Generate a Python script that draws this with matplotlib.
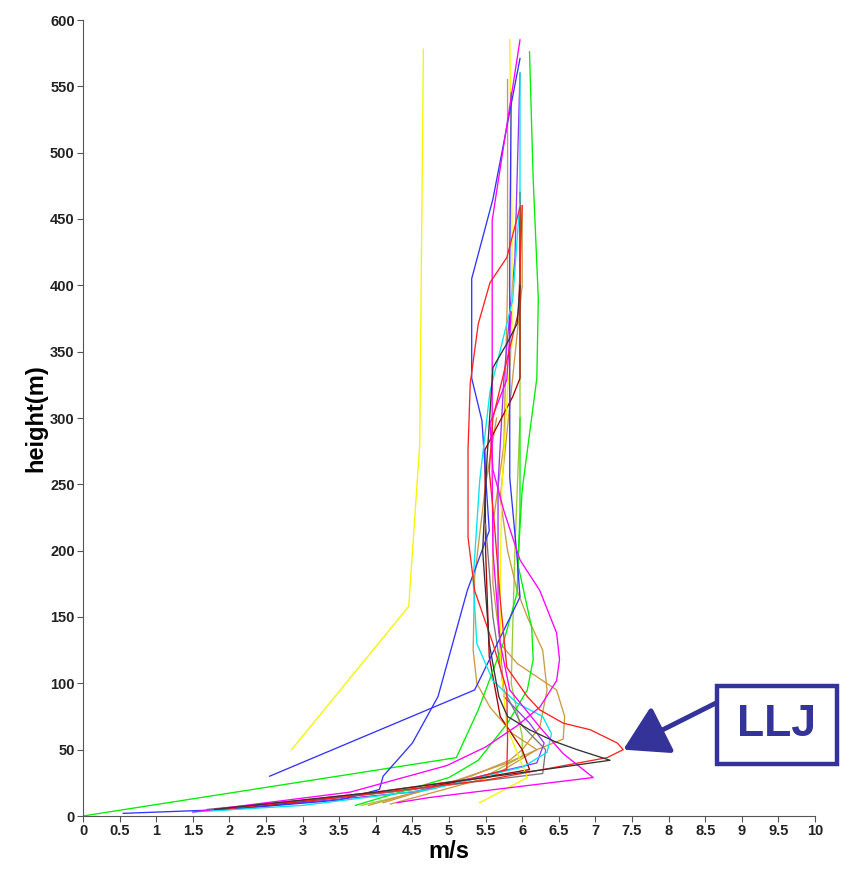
import matplotlib
matplotlib.use("Agg")
import matplotlib.pyplot as plt
from matplotlib.patches import Rectangle
import numpy as np

# wind speed (m/s) and height (m) for each profile
yel1_ms = [2.85, 4.45, 4.6, 4.65]
yel1_h = [50, 158, 280, 578]
yel2_ms = [5.42, 6.07, 5.79, 5.7, 5.7, 5.72, 5.8, 5.86, 5.86, 5.83]
yel2_h = [10, 29, 67, 120, 178, 246, 321, 356, 449, 585]
blu1_ms = [0.55, 2.0, 3.5, 4.05, 4.1, 4.5, 4.85, 5.05, 5.25, 5.45, 5.55, 5.45, 5.31, 5.31, 5.6, 5.97]
blu1_h = [2, 5, 12, 20, 30, 55, 90, 130, 170, 200, 215, 298, 330, 405, 465, 571]
blu2_ms = [2.55, 5.35, 5.97, 5.93, 5.83, 5.83, 5.85]
blu2_h = [30, 95, 165, 195, 255, 420, 545]
grn1_ms = [0, 5.1, 5.4, 5.74, 5.93, 5.97, 5.97]
grn1_h = [0, 44, 80, 130, 168, 230, 300]
grn2_ms = [3.72, 5.0, 5.4, 5.8, 6.07, 6.15, 6.13, 5.94, 6.0, 6.2, 6.22, 6.15, 6.1]
grn2_h = [8, 29, 42, 70, 95, 118, 142, 190, 246, 330, 390, 480, 576]
red1_ms = [1.8, 3.5, 5.5, 7.16, 7.38, 7.3, 6.93, 6.56, 6.24, 6.07, 5.79, 5.7, 5.62, 5.55, 5.6, 5.95, 6.0]
red1_h = [5, 14, 27, 44, 50, 55, 65, 70, 80, 90, 112, 163, 220, 260, 300, 380, 460]
red2_ms = [1.9, 4.0, 5.3, 5.79, 5.8, 5.79, 5.6, 5.35, 5.26, 5.26, 5.29, 5.4, 5.56, 5.79, 5.97]
red2_h = [5, 18, 28, 35, 57, 95, 130, 170, 210, 276, 326, 371, 402, 421, 459]
blk1_ms = [1.8, 4.0, 6.3, 7.2, 6.75, 6.45, 6.1, 5.8, 5.68, 5.55, 5.46, 5.52, 5.6, 5.79, 5.93, 5.97]
blk1_h = [5, 18, 35, 42, 50, 56, 65, 75, 90, 130, 200, 270, 338, 356, 371, 400]
gry_ms = [1.7, 4.2, 6.28, 6.32, 6.0, 5.75, 5.6, 5.5]
gry_h = [5, 18, 32, 50, 68, 95, 150, 220]
mag1_ms = [1.5, 3.65, 4.97, 5.5, 5.93, 6.24, 6.47, 6.51, 6.47, 6.24, 5.97, 5.75, 5.6, 5.56, 5.79, 5.85]
mag1_h = [3, 18, 38, 52, 68, 82, 102, 118, 138, 170, 193, 230, 261, 296, 329, 380]
mag2_ms = [4.29, 4.74, 6.97, 6.56, 6.24, 5.83, 5.7, 5.6, 5.59, 5.59, 5.97]
mag2_h = [10, 14, 29, 47, 67, 95, 130, 200, 260, 449, 585]
cyn_ms = [1.5, 3.0, 4.74, 6.01, 6.34, 6.4, 6.28, 5.93, 5.6, 5.38, 5.33, 5.42, 5.56, 5.87, 5.97, 5.97]
cyn_h = [3, 8, 20, 37, 48, 62, 75, 85, 102, 130, 178, 253, 320, 389, 464, 560]
tan1_ms = [3.9, 5.0, 5.8, 6.2, 6.56, 6.58, 6.47, 5.93, 5.7, 5.6, 5.6, 5.75, 5.8, 5.8]
tan1_h = [8, 25, 40, 50, 58, 75, 95, 115, 130, 175, 220, 280, 400, 555]
tan2_ms = [4.1, 5.3, 5.83, 6.0, 6.24, 6.34, 6.28, 6.07, 5.93, 5.8, 5.7, 5.85, 6.0, 6.0]
tan2_h = [10, 30, 42, 50, 67, 95, 125, 150, 170, 200, 240, 320, 400, 460]
tan3_ms = [4.2, 5.6, 6.2, 5.87, 5.56, 5.38, 5.33, 5.35, 5.5, 5.65]
tan3_h = [9, 30, 50, 62, 82, 100, 125, 180, 250, 300]
drd_ms = [2.0, 4.5, 6.1, 6.0, 5.7, 5.55, 5.5, 5.49, 5.87, 5.97, 5.97, 5.97]
drd_h = [5, 20, 35, 50, 75, 120, 200, 276, 316, 330, 428, 470]
pur_ms = [2.2, 4.5, 6.2, 6.3, 6.1, 5.75, 5.67, 5.67, 5.75, 5.9, 5.97]
pur_h = [6, 18, 40, 55, 70, 90, 150, 250, 330, 420, 560]
olv_ms = [3.8, 5.5, 6.0, 6.0, 5.85, 5.9, 5.97, 5.97]
olv_h = [8, 30, 45, 60, 100, 200, 300, 470]

profiles = [
    (olv_ms, olv_h, '#99cc33'),
    (tan3_ms, tan3_h, '#cc9944'),
    (tan2_ms, tan2_h, '#cc9944'),
    (tan1_ms, tan1_h, '#cc9944'),
    (pur_ms, pur_h, '#9933ff'),
    (drd_ms, drd_h, '#aa0000'),
    (gry_ms, gry_h, '#777777'),
    (grn1_ms, grn1_h, '#00ee00'),
    (grn2_ms, grn2_h, '#00ee00'),
    (yel1_ms, yel1_h, '#f5f500'),
    (yel2_ms, yel2_h, '#f5f500'),
    (blu1_ms, blu1_h, '#3333ff'),
    (blu2_ms, blu2_h, '#3333ff'),
    (cyn_ms, cyn_h, '#00e5ee'),
    (mag1_ms, mag1_h, '#ff00ff'),
    (mag2_ms, mag2_h, '#ff00ff'),
    (red2_ms, red2_h, '#ff2222'),
    (red1_ms, red1_h, '#ff2222'),
    (blk1_ms, blk1_h, '#333333'),
]

plt.rcParams['font.family'] = ['Liberation Sans', 'DejaVu Sans']

fig = plt.figure(figsize=(8.41, 8.69), dpi=100)
ax = fig.add_axes([83/841, 53/869, 732/841, 796/869])

for x, y, c in profiles:
    ax.plot(x, y, color=c, lw=0.95)

ax.set_xlim(0, 10)
ax.set_ylim(0, 600)
ax.set_xticks(np.arange(0, 10.01, 0.5))
ax.set_xticklabels(['%g' % v for v in np.arange(0, 10.01, 0.5)])
ax.set_yticks(np.arange(0, 601, 50))
for s in ['top', 'right']:
    ax.spines[s].set_visible(False)
for s in ['left', 'bottom']:
    ax.spines[s].set_color('#555555')
    ax.spines[s].set_linewidth(0.8)
ax.tick_params(direction='out', length=4, width=0.8, color='#555555',
               labelsize=10.5, pad=2)
for lab in ax.get_xticklabels() + ax.get_yticklabels():
    lab.set_fontweight('bold')
    lab.set_color('#222222')

ax.set_xlabel('m/s', fontsize=17, fontweight='bold', labelpad=1)
ax.set_ylabel('height(m)', fontsize=17, fontweight='bold', labelpad=2)

# LLJ callout box and arrow
navy = '#333399'
fig.patches.append(Rectangle((717, 105), 120, 78, transform=None,
                             fill=True, fc='white', ec=navy, lw=3.2))
fig.text(777 / 841, 144 / 869, 'LLJ', ha='center', va='center',
         fontsize=32, fontweight='bold', color=navy)
ax.annotate('', xy=(7.38, 50), xycoords='data',
            xytext=(716, 166), textcoords='figure pixels',
            arrowprops=dict(arrowstyle='-|>,head_length=1.35,head_width=0.8',
                            mutation_scale=20, lw=3.5, color=navy,
                            shrinkA=0, shrinkB=0),
            annotation_clip=False)

fig.savefig('out.png', dpi=100)
